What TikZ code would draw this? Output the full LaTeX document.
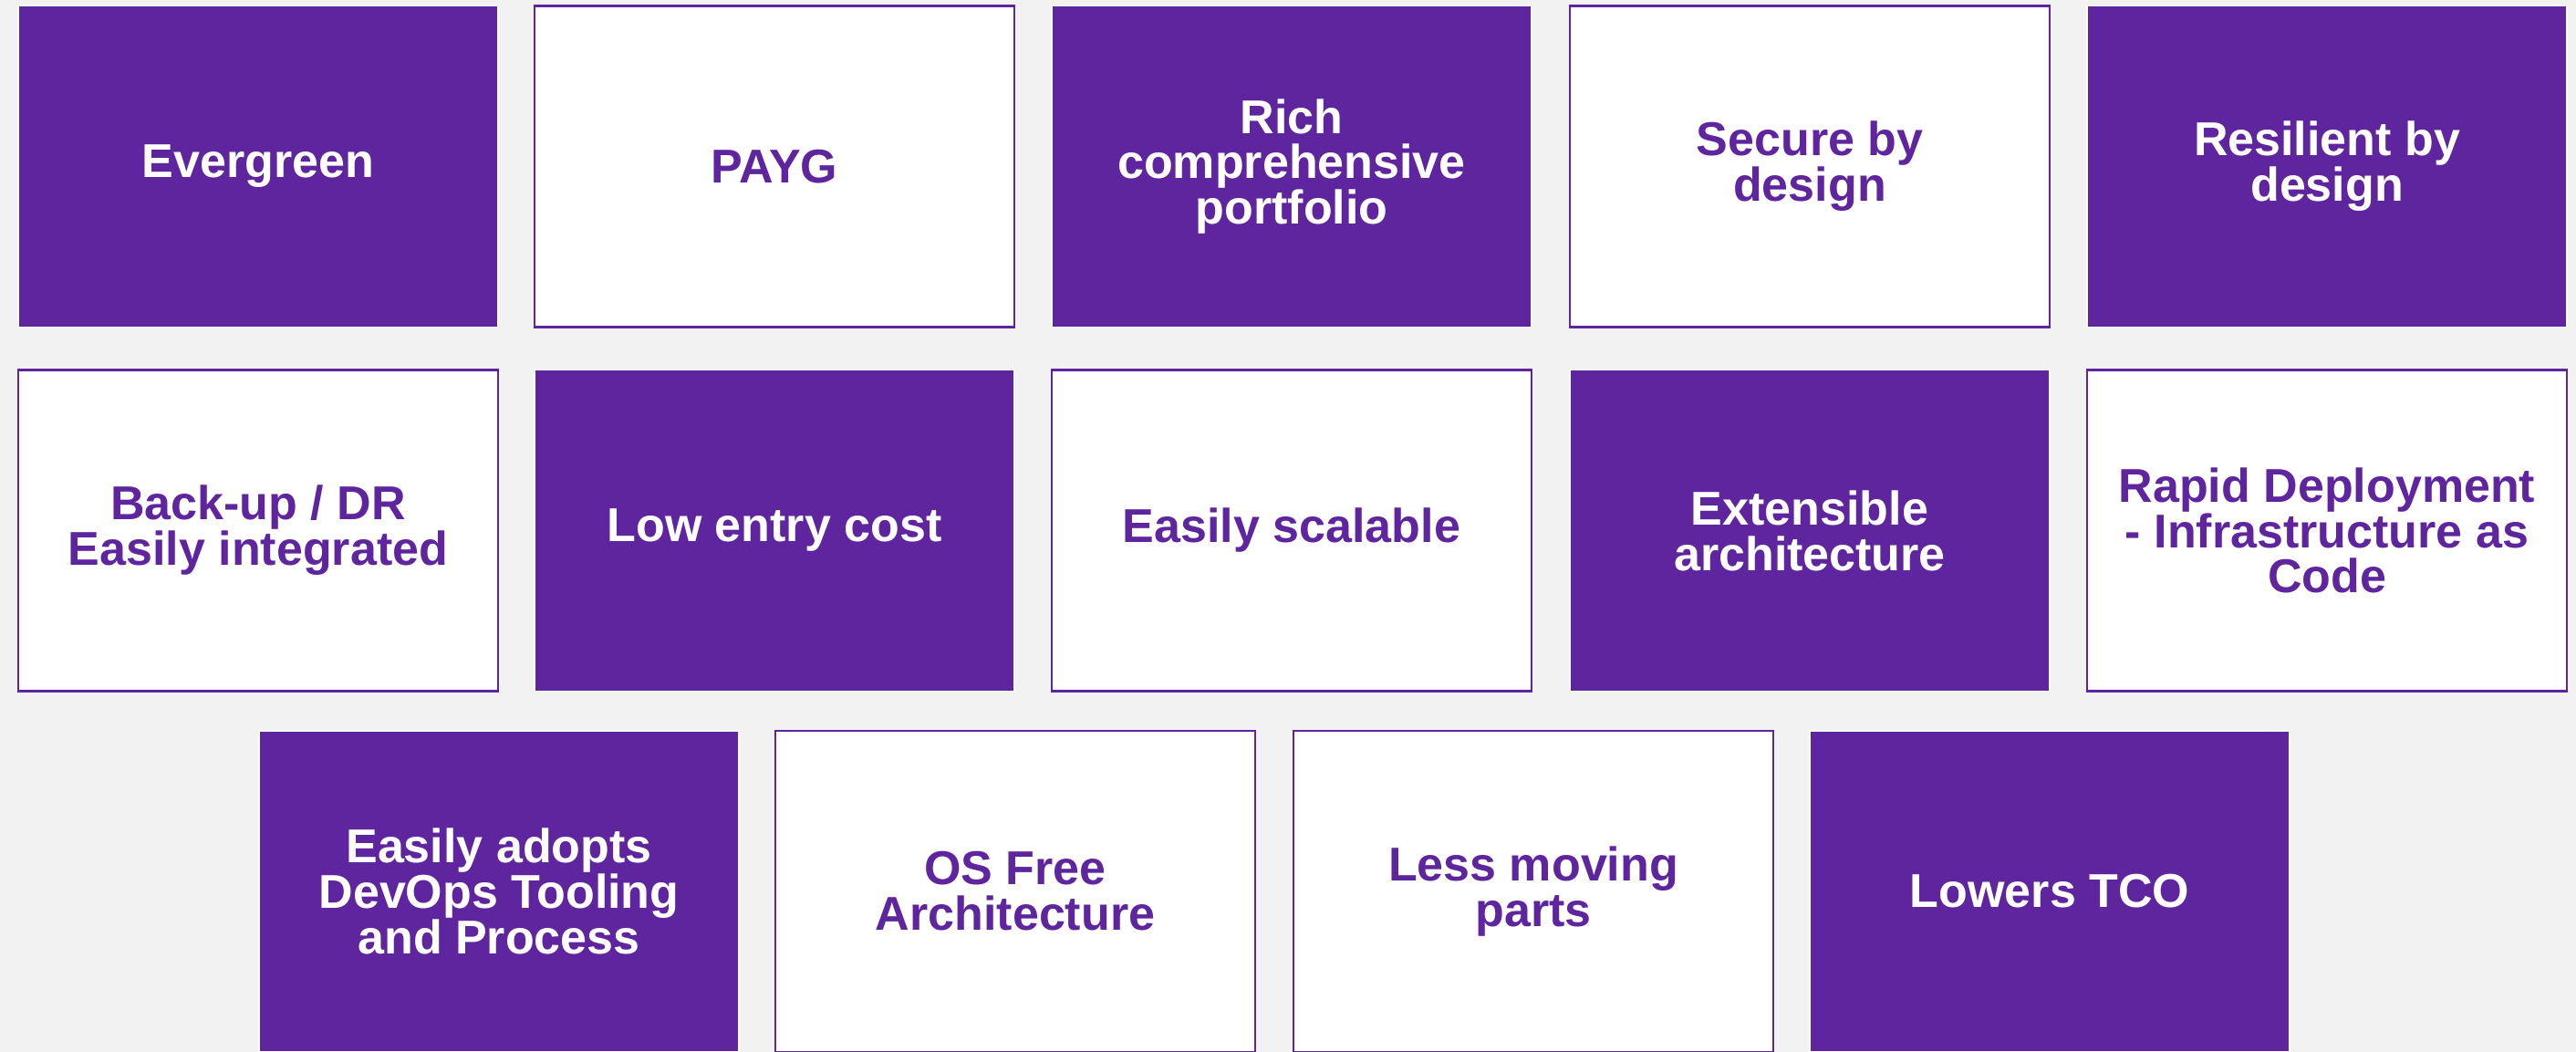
\documentclass[tikz,border=0pt]{standalone}
\usepackage{fontspec}
\setmainfont{Liberation Sans}
\usepackage{tikz}
\usetikzlibrary{backgrounds}
\definecolor{tilepurple}{RGB}{94,37,159}
\definecolor{pagegray}{RGB}{242,242,242}

\begin{document}
\begin{tikzpicture}[background rectangle/.style={fill=pagegray}, show background rectangle, inner frame sep=0pt,
	tile/.style={minimum width=5.26cm, minimum height=3.52cm, inner sep=0pt, outer sep=0pt, align=center, font=\fontsize{14.8}{14.2}\selectfont\bfseries},
	darktile/.style={tile, fill=tilepurple, draw=white, line width=0.45pt, text=white},
	lighttile/.style={tile, fill=white, draw=tilepurple, line width=0.6pt, text=tilepurple}]

	\useasboundingbox (0,0) rectangle (28.24,11.53);

	% first row
	\node[darktile]  (evergreen) at (2.83,9.705)  {Evergreen};
	\node[lighttile] (payg)      at (8.49,9.705)  {PAYG};
	\node[darktile]  (rich)      at (14.16,9.705) {Rich\\comprehensive\\portfolio};
	\node[lighttile] (secure)    at (19.84,9.705) {Secure by\\design};
	\node[darktile]  (resilient) at (25.51,9.705) {Resilient by\\design};

	% second row
	\node[lighttile] (backup)    at (2.83,5.715)  {Back-up / DR\\Easily integrated};
	\node[darktile]  (lowcost)   at (8.49,5.715)  {Low entry cost};
	\node[lighttile] (scalable)  at (14.16,5.715) {Easily scalable};
	\node[darktile]  (extensible) at (19.84,5.715) {Extensible\\architecture};
	\node[lighttile] (rapid)     at (25.51,5.715) {Rapid Deployment\\- Infrastructure as\\Code};

	% third row, shifted
	\node[darktile]  (devops)    at (5.47,1.76)  {Easily adopts\\DevOps Tooling\\and Process};
	\node[lighttile] (osfree)    at (11.13,1.76) {OS Free\\Architecture};
	\node[lighttile] (lessparts) at (16.81,1.76) {Less moving\\parts};
	\node[darktile]  (tco)       at (22.47,1.76) {Lowers TCO};

\end{tikzpicture}
\end{document}
